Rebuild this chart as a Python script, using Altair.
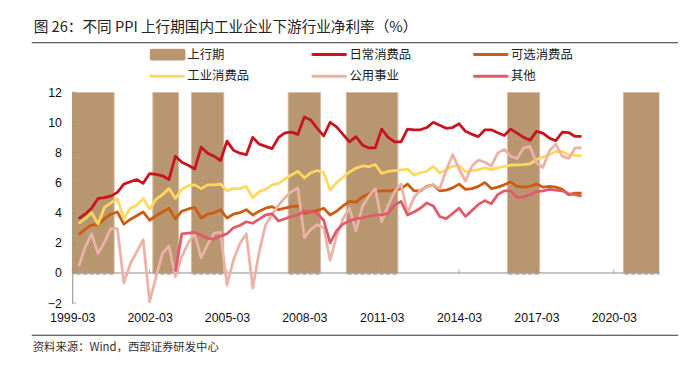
import altair as alt
import pandas as pd

# ---------------- data ----------------
title_text = "图 26：不同 PPI 上行期国内工业企业下游行业净利率（%）"
source_text = "资料来源：Wind，西部证券研发中心"

band_name = "上行期"
series_names = ["日常消费品", "可选消费品", "工业消费品", "公用事业", "其他"]

first_quarter = "1999Q2"
last_quarter = "2018Q4"
other_first_quarter = "2003Q1"

daily = [3.6, 3.9, 4.3, 4.95, 5.0, 5.1, 5.35, 5.9, 6.05, 6.2,
         5.95, 6.6, 6.55, 6.45, 6.2, 7.75, 7.35, 7.15, 6.9, 8.35,
         7.95, 7.75, 7.45, 8.75, 8.15, 7.95, 7.85, 9.0, 8.55, 8.4,
         8.25, 9.0, 9.3, 9.35, 9.2, 10.35, 10.15, 9.6, 9.1, 10.0,
         9.7, 9.2, 8.7, 9.05, 8.5, 8.3, 8.3, 9.55, 9.0, 8.7,
         8.7, 9.55, 9.5, 9.5, 9.65, 10.0, 9.8, 9.6, 9.65, 9.9,
         9.4, 9.2, 9.05, 9.5, 9.5, 9.3, 9.12, 9.55, 9.28, 9.0,
         8.8, 9.4, 9.28, 8.95, 8.78, 9.34, 9.32, 9.06, 9.06]

optional = [2.55, 2.9, 3.2, 3.2, 3.6, 3.9, 4.05, 3.25, 3.55, 3.8,
            4.05, 3.5, 3.8, 4.05, 4.3, 3.6, 4.1, 4.25, 4.35, 3.65,
            3.9, 4.0, 4.2, 3.65, 3.9, 4.0, 4.2, 3.85, 4.1, 4.3,
            4.4, 4.2, 4.3, 4.4, 4.45, 3.95, 4.05, 4.15, 4.3, 3.85,
            4.1, 4.45, 4.75, 4.7, 5.05, 5.25, 5.4, 5.45, 5.45, 5.5,
            5.6, 5.9, 5.45, 5.45, 5.75, 5.85, 5.45, 5.5, 5.65, 5.9,
            5.55, 5.6, 5.75, 6.0, 5.6, 5.7, 5.85, 6.05, 5.75, 5.7,
            5.75, 5.9, 5.7, 5.75, 5.7, 5.55, 5.2, 5.3, 5.3]

industrial = [3.3, 3.6, 4.0, 3.25, 4.35, 4.65, 4.95, 3.6, 4.3, 4.5,
              4.95, 4.25, 4.9, 5.2, 5.6, 4.95, 5.55, 5.8, 5.85, 5.6,
              5.85, 5.85, 5.9, 5.45, 5.6, 5.6, 5.75, 5.0, 5.4, 5.55,
              5.85, 5.95, 6.25, 6.5, 6.75, 6.3, 6.65, 6.8, 6.65, 5.5,
              6.0, 6.35, 6.7, 6.95, 7.1, 7.05, 7.2, 6.6, 6.75, 6.8,
              6.85, 6.9, 6.5, 6.65, 6.75, 7.08, 6.64, 6.86, 7.08, 7.13,
              6.71, 6.8, 6.86, 6.97, 6.86, 6.97, 7.08, 7.15, 7.17, 7.19,
              7.24, 7.52, 7.68, 7.85, 8.07, 8.05, 7.85, 7.8, 7.78]

utility = [0.45, 1.7, 2.6, 1.3, 2.05, 2.95, 2.95, -0.65, 0.6, 1.4,
           2.2, -1.9, -0.25, 1.3, 1.8, -0.25, 1.1, 2.0, 2.6, 1.0,
           1.9, 2.65, 2.7, -0.8, 0.85, 1.95, 2.6, -1.0, 1.4, 3.2,
           3.9, 4.5, 5.0, 5.4, 5.65, 2.35, 2.9, 3.2, 3.0, 0.85,
           2.45, 3.6, 4.3, 2.8, 4.4, 5.1, 5.6, 3.4, 4.5, 5.4,
           5.9, 4.0, 5.0, 5.5, 5.7, 5.85, 5.6, 6.8, 7.85, 6.9,
           6.1, 7.1, 7.5, 7.35, 7.1, 7.95, 8.2, 7.75, 7.6, 8.3,
           8.4, 7.3, 7.0, 8.1, 8.55, 7.75, 7.6, 8.3, 8.3]

other = [0.1, 2.6, 2.65, 2.7, 2.5, 2.3, 2.25, 2.45, 2.6, 3.0,
         3.15, 3.4, 3.3, 3.57, 3.85, 3.92, 3.45, 3.6, 3.75, 3.85,
         4.1, 4.1, 3.95, 3.5, 2.0, 2.8, 3.25, 3.45, 3.6, 3.65,
         3.75, 3.85, 3.85, 3.95, 4.5, 4.75, 3.85, 4.05, 4.3, 4.65,
         4.45, 3.75, 3.6, 3.95, 4.3, 3.75, 4.15, 4.55, 4.8, 4.6,
         5.2, 5.45, 5.45, 5.0, 5.05, 5.2, 5.4, 5.45, 5.55, 5.5,
         5.45, 5.25, 5.2, 5.1]

# PPI upward periods (first and last quarter-end month of each period)
up_start = ["1999-03", "2002-06", "2003-12", "2007-09", "2009-12", "2016-03", "2020-09"]
up_end = ["2000-09", "2003-03", "2004-12", "2008-09", "2011-09", "2017-03", "2021-12"]

x_tick_labels = ["1999-03", "2002-03", "2005-03", "2008-03",
                 "2011-03", "2014-03", "2017-03", "2020-03"]
y_ticks = [-2, 0, 2, 4, 6, 8, 10, 12]

# ---------------- styles ----------------
series_colors = ["#C8141E", "#CC5C12", "#FFD95E", "#EBB2A8", "#E05A6B"]
band_color = "#B8966F"
band_edge = "#D2BBA2"
dash_color = "#D9BBA5"
axis_color = "#8C8C8C"
CJK = "Noto Sans CJK SC"
LATIN = "Liberation Sans"

X_END = 91.05  # last visible quarter position (2021-12)


def month_index(label):
    y, m = label.split("-")
    return (int(y) - 1999) * 4 + (int(m) - 3) / 3


def quarter_positions(start, end):
    per = pd.period_range(start, end, freq="Q")
    return [(p.year - 1999) * 4 + (p.quarter - 1) for p in per]


base_idx = quarter_positions(first_quarter, last_quarter)
other_idx = quarter_positions(other_first_quarter, last_quarter)
series_values = [daily, optional, industrial, utility, other]
series_index = [base_idx, base_idx, base_idx, base_idx, other_idx]

bands = pd.DataFrame({
    "x0": [month_index(s) - 0.5 for s in up_start],
    "x1": [month_index(e) + 0.5 for e in up_end],
    "y0": 0, "y1": 12,
})
dash_rows = []
for s, e in zip(up_start, up_end):
    for q in range(int(month_index(s)), int(month_index(e)) + 1):
        dash_rows.append({"x0": q - 0.32, "x1": q + 0.32, "y0": 0, "y1": -0.13})
dashes = pd.DataFrame(dash_rows)

xs = alt.Scale(domain=[0, X_END], nice=False, zero=False)
ys = alt.Scale(domain=[-2, 12], nice=False, zero=False)

label_list = ",".join("'" + t + "'" for t in x_tick_labels)
x_axis = alt.Axis(values=[i * 12 for i in range(len(x_tick_labels))],
                  labelExpr="[" + label_list + "][round(datum.value/12)]",
                  title=None, domain=False, ticks=False, grid=False,
                  labelFont=LATIN, labelFontSize=12.5, labelColor="#111",
                  labelPadding=9, labelFlush=False)
y_axis = alt.Axis(values=y_ticks, format="d", title=None, domain=True,
                  domainColor=axis_color, domainWidth=1, ticks=False,
                  grid=False, labelFont=LATIN, labelFontSize=12.5,
                  labelColor="#111", labelPadding=11)


def X(field):
    return alt.X(field, scale=xs, axis=x_axis)


def Y(field):
    return alt.Y(field, scale=ys, axis=y_axis)


layers = []
layers.append(
    alt.Chart(bands).mark_rect(color=band_color, stroke=band_edge,
                               strokeWidth=1, clip=True).encode(
        x=X("x0:Q"), x2="x1", y=Y("y0:Q"), y2="y1")
)
layers.append(
    alt.Chart(dashes).mark_rect(color=dash_color, clip=True).encode(
        x=X("x0:Q"), x2="x1", y=Y("y0:Q"), y2="y1")
)
# x axis line at zero
layers.append(
    alt.Chart(pd.DataFrame({"v": [0]})).mark_rule(color=axis_color, strokeWidth=1).encode(
        y=Y("v:Q"))
)
# inside ticks
layers.append(
    alt.Chart(pd.DataFrame({"t": [i * 12 for i in range(len(x_tick_labels))], "z": 0}))
    .mark_tick(orient="vertical", size=4, thickness=1, color=axis_color, yOffset=-2)
    .encode(x=X("t:Q"), y=Y("z:Q"))
)
layers.append(
    alt.Chart(pd.DataFrame({"t": y_ticks, "z": 0}))
    .mark_tick(orient="horizontal", size=4, thickness=1, color=axis_color, xOffset=2)
    .encode(y=Y("t:Q"), x=X("z:Q"))
)

for name, vals, idx, col in zip(series_names, series_values, series_index, series_colors):
    df = pd.DataFrame({"x": idx, "v": vals, "s": name})
    layers.append(
        alt.Chart(df).mark_line(color=col, strokeWidth=2.8, strokeJoin="round",
                                clip=True).encode(x=X("x:Q"), y=Y("v:Q"))
    )

# ---------------- title, rules, source, legend (pixel layout) ----------------
one = pd.DataFrame({"a": [0]})
layers.append(alt.Chart(one).mark_text(text=title_text, align="left", baseline="middle",
                                       font=CJK, fontSize=14.8, color="#222").encode(
    x=alt.value(-39), y=alt.value(-65)))
layers.append(alt.Chart(one).mark_rule(color="#333", strokeWidth=1.2).encode(
    x=alt.value(-41), x2=alt.value(613), y=alt.value(-50)))
layers.append(alt.Chart(one).mark_rule(color="#333", strokeWidth=1.2).encode(
    x=alt.value(-41), x2=alt.value(613), y=alt.value(246)))
layers.append(alt.Chart(one).mark_text(text=source_text, align="left", baseline="middle",
                                       font=CJK, fontSize=11.5, color="#333").encode(
    x=alt.value(-40), y=alt.value(259)))

col_x = [78.5, 242.5, 406]
row_y = [-38, -16]
sym_w = 34
legend_items = [(band_name, band_color, 0, 0, "rect"),
                (series_names[0], series_colors[0], 1, 0, "line"),
                (series_names[1], series_colors[1], 2, 0, "line"),
                (series_names[2], series_colors[2], 0, 1, "line"),
                (series_names[3], series_colors[3], 1, 1, "line"),
                (series_names[4], series_colors[4], 2, 1, "line")]
for name, col, cx, ry, kind in legend_items:
    x0 = col_x[cx]
    y0 = row_y[ry]
    if kind == "rect":
        layers.append(alt.Chart(one).mark_rect(color=col, cornerRadius=2).encode(
            x=alt.value(x0), x2=alt.value(x0 + 36), y=alt.value(y0 - 6), y2=alt.value(y0 + 6)))
        tx = x0 + 38
    else:
        layers.append(alt.Chart(one).mark_rule(color=col, strokeWidth=3, strokeCap="round").encode(
            x=alt.value(x0 + 1), x2=alt.value(x0 + sym_w), y=alt.value(y0)))
        tx = x0 + sym_w + 4
    layers.append(alt.Chart(one).mark_text(text=name, align="left", baseline="middle",
                                           font=CJK, fontSize=12.5, color="#222").encode(
        x=alt.value(tx), y=alt.value(y0)))

chart = alt.layer(*layers).properties(
    width=594, height=213.5,
    autosize=alt.AutoSizeParams(type="none"),
    padding={"left": 65, "top": 83, "right": 23, "bottom": 64},
    background="white",
).configure_view(strokeWidth=0)

chart.save("out.html", embed_options={"renderer": "svg", "actions": False})
